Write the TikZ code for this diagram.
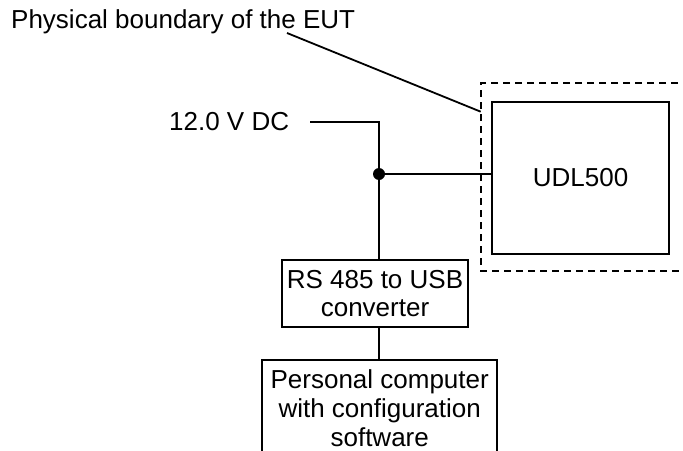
\documentclass[tikz,border=0pt]{standalone}
\usepackage{fontspec}
\setmainfont{Liberation Sans}
\begin{document}
\begin{tikzpicture}[x=1pt,y=-1pt,
  lbl/.style={font=\fontsize{26}{30}\selectfont, inner sep=0pt},
  box/.style={draw, line width=1.8pt, inner sep=0pt, align=center,
              font=\fontsize{26}{30.5}\selectfont},
  wire/.style={line width=1.8pt},
  bound/.style={line width=1.8pt, dash pattern=on 7pt off 5pt}]
\useasboundingbox (0,0) rectangle (683,450);
\clip (0,0) rectangle (683,450);
% texts
\node[lbl, anchor=base west] (title) at (11,28) {Physical boundary of the EUT};
\node[lbl, anchor=base west] (dc) at (169,130.7) {12.0 V DC};
% boxes
\node[box, minimum width=176.7pt, minimum height=152.3pt] (udl) at (580.6,178) {UDL500};
\node[box, minimum width=186.6pt, minimum height=67.3pt] (rs) at (375,293.6)
  {\raisebox{-2pt}{RS 485 to USB}\\converter};
\node[box, anchor=north, minimum width=235pt, inner ysep=9.5pt,
      font=\fontsize{26}{29pt}\selectfont] (pc) at (379.7,359)
  {Personal computer\\with configuration\\software};
% junction
\node[circle, fill, inner sep=0pt, minimum size=12pt] (j) at (379,174) {};
% coordinates
\coordinate (dcs) at (310,121.7);
\coordinate (dcc) at (379,121.7);
\coordinate (ls) at (287,33);
\coordinate (le) at (480.7,111.7);
% connectors
\draw[wire] (dcs) -- (dcc) -- (j.center) -- (j |- rs.north);
\draw[wire] (j.center) -- (j -| udl.west);
\draw[wire] (j |- rs.south) -- (j |- pc.north);
\draw[wire] (ls) -- (le);
% boundary
\draw[bound] (690,83.3) -- (480.7,83.3) -- (480.7,270.7) -- (690,270.7);
\end{tikzpicture}
\end{document}
